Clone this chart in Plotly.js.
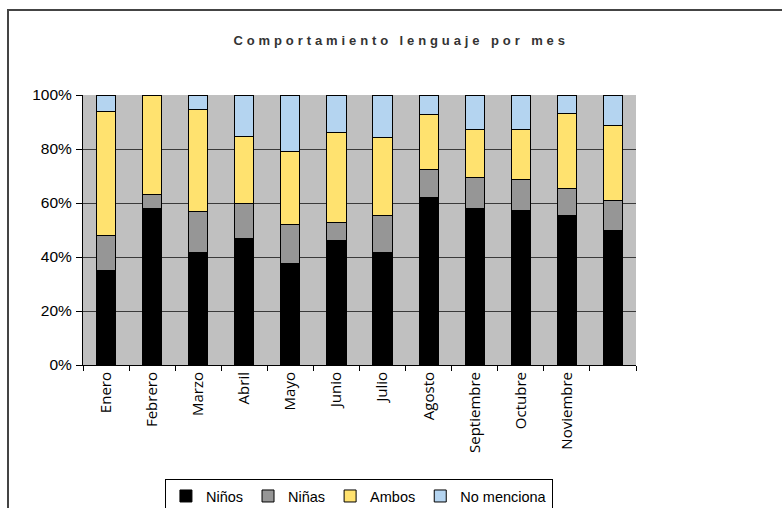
<!DOCTYPE html>
<html>
<head>
<meta charset="utf-8">
<script src="https://cdn.plot.ly/plotly-3.0.1.min.js"></script>
<style>
  html, body { margin: 0; padding: 0; background: #fff; }
  #wrap { position: relative; width: 782px; height: 508px; overflow: hidden; }
  #chart { width: 782px; height: 508px; }
  #frame { position: absolute; left: 7px; top: 9px; width: 800px; height: 520px;
           border-top: 2px solid #444; border-left: 2px solid #444; pointer-events: none; }
  .gtitle { letter-spacing: 3.9px; }
</style>
</head>
<body>
<div id="wrap">
  <div id="chart"></div>
  <div id="frame"></div>
</div>
<script>
const categories = ['Enero', 'Febrero', 'Marzo', 'Abril', 'Mayo', 'Junio', 'Julio',
                    'Agosto', 'Septiembre', 'Octubre', 'Noviembre', ' '];
const ninos       = [35.0, 57.8, 41.6, 46.7, 37.7, 46.2, 41.6, 62.1, 57.8, 57.2, 55.4, 49.7];
const ninas       = [13.0,  5.5, 15.4, 13.3, 14.2,  6.6, 13.6, 10.2, 11.8, 11.4,  9.9, 11.2];
const ambos       = [45.8, 36.4, 37.8, 24.8, 27.1, 33.4, 29.1, 20.4, 17.5, 18.5, 27.7, 27.7];
const noMenciona  = [ 6.2,  0.3,  5.2, 15.2, 21.0, 13.8, 15.7,  7.3, 12.9, 12.9,  7.0, 11.4];
const seriesNames = ['Niños', 'Niñas', 'Ambos', 'No menciona'];
const seriesColors = ['#000000', '#969696', '#FFE26F', '#B4D4F0'];
const seriesValues = [ninos, ninas, ambos, noMenciona];

const traces = seriesValues.map((vals, i) => ({
  type: 'bar',
  name: seriesNames[i],
  x: categories,
  y: vals,
  marker: { color: seriesColors[i], line: { color: '#000000', width: 1 } },
  hoverinfo: 'x+y+name'
}));

const layout = {
  width: 782,
  height: 508,
  margin: { l: 83, r: 146, t: 95, b: 143, pad: 0 },
  paper_bgcolor: 'rgba(0,0,0,0)',
  plot_bgcolor: '#C0C0C0',
  barmode: 'stack',
  bargap: 0.585,
  showlegend: true,
  title: {
    text: 'Comportamiento lenguaje por mes',
    x: 0.513, xanchor: 'center',
    y: 0.921, yanchor: 'middle', yref: 'container',
    font: { family: 'Liberation Sans, Arial, sans-serif', size: 13, color: '#333333', weight: 'bold' }
  },
  xaxis: {
    type: 'category',
    automargin: false,
    tickangle: -90,
    tickson: 'boundaries',
    ticks: 'outside',
    ticklen: 5,
    tickcolor: '#000',
    showline: true,
    linecolor: '#000',
    linewidth: 1,
    showgrid: false,
    tickfont: { family: 'Open Sans, sans-serif', size: 15, color: '#000' },
    fixedrange: true
  },
  yaxis: {
    automargin: false,
    range: [0, 100],
    dtick: 20,
    ticksuffix: '%',
    ticks: 'outside',
    ticklen: 6,
    tickcolor: '#000',
    showline: true,
    linecolor: '#000',
    linewidth: 1,
    gridcolor: '#3a3a3a',
    gridwidth: 1,
    zeroline: false,
    ticklabelstandoff: 1,
    tickfont: { family: 'Liberation Sans, Arial, sans-serif', size: 15.5, color: '#000' },
    fixedrange: true
  },
  legend: {
    orientation: 'h',
    xref: 'container', yref: 'container',
    x: 0.459, xanchor: 'center',
    y: 0.057, yanchor: 'top',
    bordercolor: '#000',
    borderwidth: 1,
    bgcolor: '#fff',
    traceorder: 'normal',
    font: { family: 'Liberation Sans, Arial, sans-serif', size: 14.5, color: '#000' },
    itemwidth: 30
  }
};

Plotly.newPlot('chart', traces, layout, { displayModeBar: false, staticPlot: true });
</script>
</body>
</html>
